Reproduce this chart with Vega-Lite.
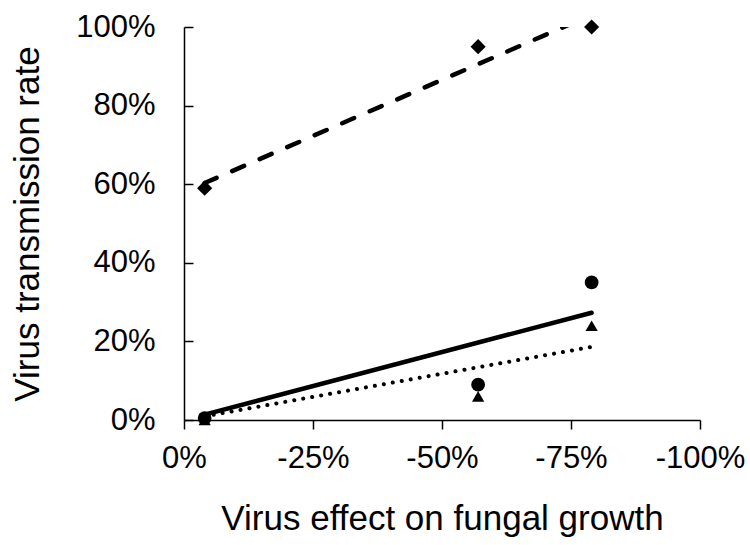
{
  "$schema": "https://vega.github.io/schema/vega-lite/v6.json",
  "width": 516,
  "height": 393,
  "autosize": {"type": "none"},
  "padding": {"left": 184, "top": 27, "right": 50, "bottom": 125},
  "background": "#ffffff",
  "config": {
    "view": {"stroke": null},
    "font": "Liberation Sans",
    "axis": {
      "grid": false,
      "domainColor": "#000000",
      "tickColor": "#000000",
      "domainWidth": 1.5,
      "tickWidth": 1.5,
      "labelColor": "#000000",
      "titleColor": "#000000",
      "labelFont": "Liberation Sans",
      "titleFont": "Liberation Sans",
      "labelFontSize": 31,
      "titleFontSize": 35,
      "titleFontWeight": "normal"
    }
  },
  "datasets": {
    "points": [
      {"x": -0.04, "y": 0.59, "series": "A"},
      {"x": -0.57, "y": 0.95, "series": "A"},
      {"x": -0.79, "y": 1.0, "series": "A"},
      {"x": -0.04, "y": 0.005, "series": "B"},
      {"x": -0.57, "y": 0.09, "series": "B"},
      {"x": -0.79, "y": 0.35, "series": "B"},
      {"x": -0.04, "y": 0.0, "series": "C"},
      {"x": -0.57, "y": 0.06, "series": "C"},
      {"x": -0.79, "y": 0.24, "series": "C"}
    ],
    "trend": [
      {"x": -0.04, "y": 0.603, "series": "A"},
      {"x": -0.79, "y": 1.031, "series": "A"},
      {"x": -0.04, "y": 0.0138, "series": "B"},
      {"x": -0.79, "y": 0.273, "series": "B"},
      {"x": -0.04, "y": 0.0094, "series": "C"},
      {"x": -0.79, "y": 0.186, "series": "C"}
    ]
  },
  "encoding": {
    "x": {
      "field": "x",
      "type": "quantitative",
      "scale": {"domain": [0, -1], "nice": false, "zero": false},
      "axis": {
        "title": "Virus effect on fungal growth",
        "values": [0, -0.25, -0.5, -0.75, -1],
        "format": ".0%",
        "labelExpr": "replace(datum.label, '−', '-')",
        "tickSize": 9,
        "labelPadding": 14,
        "titlePadding": 28,
        "labelFlush": false,
        "labelOverlap": false
      }
    },
    "y": {
      "field": "y",
      "type": "quantitative",
      "scale": {"domain": [0, 1], "nice": false},
      "axis": {
        "title": "Virus transmission rate",
        "values": [0, 0.2, 0.4, 0.6, 0.8, 1],
        "format": ".0%",
        "ticks": false,
        "grid": true,
        "gridColor": "#000000",
        "gridWidth": 1.5,
        "gridDash": [9, 1000],
        "labelPadding": 29,
        "titlePadding": 30,
        "labelFlush": false,
        "labelOverlap": false
      }
    }
  },
  "layer": [
    {
      "data": {"name": "trend"},
      "transform": [{"filter": "datum.series === 'A'"}],
      "mark": {"type": "line", "strokeDash": [13, 17], "strokeWidth": 4.5, "strokeCap": "round", "color": "#000000", "clip": true}
    },
    {
      "data": {"name": "trend"},
      "transform": [{"filter": "datum.series === 'B'"}],
      "mark": {"type": "line", "strokeWidth": 4.5, "strokeCap": "round", "color": "#000000", "clip": true}
    },
    {
      "data": {"name": "trend"},
      "transform": [{"filter": "datum.series === 'C'"}],
      "mark": {"type": "line", "strokeDash": [0.1, 9], "strokeWidth": 4, "strokeCap": "round", "color": "#000000", "clip": true}
    },
    {
      "data": {"name": "points"},
      "mark": {"type": "point", "filled": true, "opacity": 1, "color": "#000000"},
      "encoding": {
        "shape": {
          "field": "series",
          "type": "nominal",
          "scale": {"domain": ["A", "B", "C"], "range": ["diamond", "circle", "triangle-up"]},
          "legend": null
        },
        "size": {
          "field": "series",
          "type": "nominal",
          "scale": {"domain": ["A", "B", "C"], "range": [230, 150, 260]},
          "legend": null
        }
      }
    }
  ]
}
